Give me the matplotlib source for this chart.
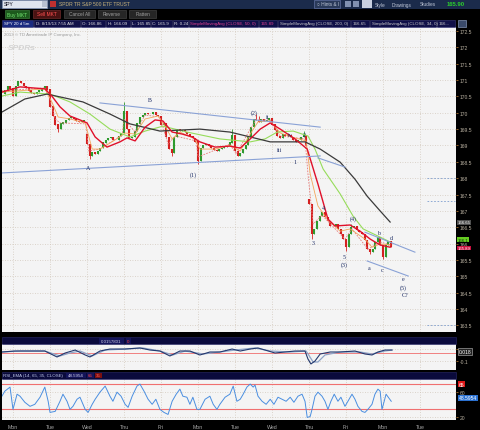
import numpy as np
import matplotlib
matplotlib.use("Agg")
import matplotlib.pyplot as plt
from matplotlib.patches import Rectangle
import matplotlib.transforms as mtransforms

plt.rcParams['font.family'] = ['Liberation Sans', 'DejaVu Sans']

# ---------------- data ----------------
day_labels = ['Mon', 'Tue', 'Wed', 'Thu', 'Fri', 'Mon', 'Tue', 'Wed', 'Thu', 'Fri', 'Mon', 'Tue']
bars_per_day = 14

# closes of each session (bar by bar)
prev_fri = [170.57, 170.67, 170.79, 170.73]
mon_a = [170.51, 170.82, 170.97, 170.91, 170.82, 170.76, 170.67, 170.60, 170.57, 170.63, 170.67, 170.73, 170.79, 170.70]
tue_a = [170.18, 169.90, 169.63, 169.50, 169.66, 169.69, 169.78, 169.84, 169.87, 169.81, 169.75, 169.72, 169.75, 169.78]
wed_a = [169.04, 168.68, 168.80, 168.74, 168.83, 168.92, 169.08, 169.17, 169.23, 169.26, 169.17, 169.17, 169.29, 169.38]
thu_a = [170.05, 169.50, 169.23, 169.26, 169.44, 169.66, 169.87, 169.93, 169.99, 169.96, 169.96, 170.02, 169.93, 169.90]
fri_a = [169.63, 169.66, 169.26, 168.89, 168.77, 169.26, 169.50, 169.44, 169.47, 169.41, 169.35, 169.29, 169.23, 169.11]
mon_b = [168.52, 168.92, 169.01, 169.04, 168.98, 168.92, 168.86, 168.83, 168.89, 168.92, 168.95, 168.98, 169.08, 169.32]
tue_b = [168.83, 168.68, 168.77, 168.89, 169.01, 169.26, 169.56, 169.81, 169.78, 169.72, 169.81, 169.75, 169.78, 169.84]
wed_b = [169.63, 169.47, 169.29, 169.23, 169.35, 169.29, 169.32, 169.26, 169.17, 169.11, 169.17, 169.26, 169.32, 168.98]
thu_b = [167.21, 166.29, 166.45, 166.69, 166.84, 166.96, 166.81, 166.69, 166.54, 166.54, 166.60, 166.45, 166.29, 166.14]
fri_b = [165.89, 166.29, 166.51, 166.54, 166.41, 166.35, 166.29, 166.11, 165.83, 165.74, 165.83, 166.05, 166.20, 165.96]
mon_c = [165.59, 165.96, 166.08, 165.89]
session_open = [170.73, 170.70, 169.35, 169.38, 169.90, 169.11, 169.32, 169.84, 167.36, 166.14, 165.96]
wick_high = [(3, 0, 170.33), (5, 13, 169.50), (6, 8, 169.96), (6, 9, 169.90), (7, 12, 169.44),
             (8, 0, 167.36), (9, 2, 166.60), (9, 12, 166.23)]
wick_low = [(1, 3, 169.41), (2, 1, 168.59), (4, 4, 168.68), (5, 0, 168.43), (8, 1, 166.14),
            (9, 0, 165.77), (9, 9, 165.68), (10, 0, 165.53)]

# moving averages (day position, price)
sma200_t = [-0.30, 0.32, 0.92, 1.89, 2.62, 3.16, 3.97, 5.05, 5.86, 6.41, 6.95, 7.89, 8.30, 8.84, 9.24, 9.57, 9.92, 10.19]
sma200_p = [170.02, 170.42, 170.57, 170.33, 169.96, 169.66, 169.44, 169.50, 169.41, 169.26, 169.11, 169.11, 168.89, 168.49, 167.97, 167.45, 167.00, 166.66]
sma50_t = [-0.30, 0.19, 1.00, 1.54, 2.08, 2.62, 3.16, 3.57, 4.05, 4.70, 5.59, 6.41, 6.81, 7.14, 7.57, 7.97, 8.16, 8.38, 8.84, 9.19, 9.46, 9.92, 10.19]
sma50_p = [170.51, 170.63, 170.57, 170.33, 169.96, 169.50, 169.26, 169.44, 169.59, 169.41, 169.20, 169.11, 169.20, 169.41, 169.44, 169.29, 168.89, 168.28, 167.52, 166.84, 166.45, 166.20, 166.05]
sma34_t = [-0.30, 0.19, 0.86, 1.05, 1.27, 1.54, 1.81, 2.00, 2.22, 2.54, 2.89, 3.08, 3.30, 3.57, 3.84, 4.05, 4.30, 4.57, 4.84, 5.05, 5.46, 5.86, 6.14, 6.41, 6.68, 6.95, 7.22, 7.62, 7.95, 8.24, 8.51, 8.70, 9.11, 9.38, 9.65, 9.92, 10.19]
sma34_p = [170.63, 170.79, 170.73, 170.51, 170.18, 169.90, 169.78, 169.69, 169.26, 168.95, 169.11, 169.23, 169.14, 169.56, 169.78, 169.75, 169.41, 169.35, 169.26, 169.11, 168.95, 168.98, 168.92, 169.20, 169.50, 169.69, 169.50, 169.20, 168.89, 167.82, 166.75, 166.54, 166.57, 166.38, 166.14, 165.96, 165.89]
ma_org_t = [-0.30, 0.86, 1.05, 1.22, 1.54, 1.95, 2.14, 2.35, 2.76, 3.03, 3.30, 3.57, 3.92, 4.11, 4.30, 4.51, 4.92, 5.05, 5.46, 5.86, 6.14, 6.41, 6.62, 6.95, 7.22, 7.62, 7.92, 8.03, 8.24, 8.49, 8.84, 9.11, 9.51, 9.70, 9.92, 10.19]
ma_org_p = [170.63, 170.73, 170.33, 169.87, 169.81, 169.69, 168.89, 168.89, 169.17, 169.38, 169.35, 169.81, 169.90, 169.59, 169.20, 169.41, 169.20, 168.89, 168.89, 169.01, 168.83, 169.35, 169.72, 169.75, 169.38, 169.23, 169.14, 168.13, 167.15, 166.75, 166.38, 166.45, 166.14, 165.89, 165.99, 165.96]
ma_pnk_t = [-0.30, 0.86, 1.00, 1.14, 1.27, 1.97, 2.05, 2.35, 2.95, 3.00, 3.30, 3.57, 3.97, 4.19, 4.38, 4.95, 5.00, 5.86, 6.03, 6.41, 6.57, 6.95, 7.22, 7.89, 7.97, 8.11, 8.35, 8.97, 9.16, 9.59, 9.92, 10.19]
ma_pnk_p = [170.67, 170.76, 170.42, 169.81, 169.69, 169.66, 168.83, 168.89, 169.32, 169.81, 169.41, 169.93, 169.87, 169.04, 169.29, 169.14, 168.65, 169.04, 168.74, 169.50, 169.78, 169.78, 169.29, 169.20, 168.13, 166.60, 166.87, 166.14, 166.45, 165.83, 166.05, 165.96]

# trendlines ((t0, p0), (t1, p1))
trendlines = [((2.35, 170.30), (8.30, 169.56)),
              ((-0.30, 168.16), (8.30, 168.68)),
              ((8.24, 168.62), (8.97, 168.34)),
              ((9.51, 166.35), (10.86, 165.74)),
              ((9.57, 165.47), (10.68, 165.01))]

# wave labels
wave_text = ['B', 'A', '(1)', '(2)', 'ii', 'iv', '2', 'iii', '1', '3', '4', '5', '(3)', '(4)',
             'a', 'b', 'c', 'd', 'e', '(5)', 'C?']
wave_t = [3.70, 2.03, 4.86, 6.51, 6.89, 7.49, 7.86, 7.19, 7.62, 8.11, 8.38, 8.95, 8.95, 9.19,
          9.62, 9.89, 9.97, 10.22, 10.54, 10.54, 10.59]
wave_p = [170.39, 168.34, 168.13, 170.02, 169.90, 169.35, 169.35, 168.89, 168.52, 166.02, 167.09,
          165.62, 165.37, 166.78, 165.28, 166.35, 165.22, 166.20, 164.92, 164.67, 164.46]

# oscillator panel
osc_t = [-0.30, 0.05, 0.46, 0.86, 1.19, 1.41, 1.68, 1.95, 2.08, 2.35, 2.62, 3.03, 3.43, 3.70, 3.97, 4.24, 4.51, 4.78, 5.05, 5.32, 5.59, 5.92, 6.14, 6.41, 6.62, 6.81, 7.08, 7.35, 7.62, 7.89, 7.97, 8.05, 8.16, 8.30, 8.57, 8.84, 9.24, 9.51, 9.70, 9.86, 10.05, 10.24]
osc_v = [0.013, 0.026, 0.026, 0.026, -0.052, 0.0, 0.039, -0.026, -0.052, 0.026, 0.052, 0.052, 0.066, 0.039, 0.026, -0.039, 0.026, 0.026, -0.026, 0.013, 0.013, 0.052, 0.026, 0.052, 0.066, 0.039, 0.0, 0.013, 0.026, 0.026, -0.079, -0.144, -0.105, -0.013, 0.013, 0.013, 0.026, -0.013, -0.026, 0.013, 0.039, 0.039]
sig_t = [-0.30, 0.19, 0.86, 1.27, 1.54, 1.81, 2.14, 2.49, 3.03, 3.51, 3.97, 4.32, 4.65, 5.14, 5.59, 6.00, 6.54, 6.95, 7.49, 7.92, 8.11, 8.24, 8.43, 8.84, 9.38, 9.70, 10.05, 10.24]
sig_v = [0.013, 0.026, 0.026, -0.039, 0.0, 0.026, -0.039, 0.039, 0.052, 0.066, 0.026, -0.026, 0.026, -0.013, 0.013, 0.039, 0.066, 0.026, 0.013, 0.026, -0.118, -0.118, -0.026, 0.013, 0.013, -0.013, 0.026, 0.039]

# RSI panel
rsi_t = [-0.30, -0.22, -0.08, 0.00, 0.11, 0.19, 0.32, 0.46, 0.59, 0.73, 0.86, 0.95, 1.00, 1.14, 1.27, 1.35, 1.46, 1.54, 1.62, 1.73,
         1.81, 1.95, 2.03, 2.14, 2.22, 2.35, 2.49, 2.62, 2.70, 2.81, 2.92, 3.03, 3.11, 3.22, 3.35, 3.43, 3.54, 3.65, 3.76, 3.86,
         3.97, 4.08, 4.19, 4.30, 4.41, 4.51, 4.59, 4.70, 4.78, 4.86, 4.97, 5.05, 5.19, 5.32, 5.41, 5.51, 5.59, 5.73, 5.86, 5.95,
         6.05, 6.14, 6.22, 6.32, 6.41, 6.49, 6.54, 6.62, 6.73, 6.84, 6.95, 7.05, 7.16, 7.27, 7.38, 7.49, 7.59, 7.70, 7.81, 7.89,
         7.95, 8.03, 8.08, 8.16, 8.24, 8.35, 8.43, 8.51, 8.59, 8.68, 8.78, 8.86, 8.97, 9.05, 9.16, 9.24, 9.32, 9.43, 9.51, 9.59,
         9.70, 9.78, 9.86, 9.92, 9.97, 10.03, 10.08, 10.14, 10.22]
rsi_v = [50.6, 56.6, 61.4, 35, 53, 50.6, 43.4, 38.6, 41, 49.4, 61.4, 44.6, 31.4, 32.6, 44.6, 53, 44.6, 35, 38.6, 47,
         49.4, 35, 31.4, 41, 47, 55.4, 62.6, 50.6, 44.6, 55.4, 50.6, 41, 37.4, 50.6, 62.6, 65, 56.6, 47, 41, 47,
         35, 31.4, 29, 44.6, 53, 59, 50.6, 49.4, 41, 49.4, 35, 35, 47, 50.6, 41, 35, 41, 49.4, 53, 62.6,
         44.6, 47, 53, 61.4, 65, 61.4, 63.8, 50.6, 44.6, 41, 47, 41, 49.4, 47, 44.6, 49.4, 43.4, 50.6, 53, 44.6,
         25.4, 26.6, 35, 50.6, 55.4, 50.6, 44.6, 35, 44.6, 53, 44.6, 49.4, 38.6, 44.6, 53, 47, 38.6, 32.6, 31.4, 35,
         41, 53, 59, 56.6, 35, 44.6, 53, 49.4, 44.6]
rsi_levels = [65, 35]

# ---------------- figure ----------------
W, H = 480, 431
fig = plt.figure(figsize=(W / 100, H / 100), dpi=100, facecolor='black')


def pax(x0, y0, x1, y1, **kw):
    return fig.add_axes([x0 / W, 1 - y1 / H, (x1 - x0) / W, (y1 - y0) / H], **kw)


def frect(x0, y0, x1, y1, fc, ec='none', lw=0.5):
    fig.patches.append(Rectangle((x0 / W, 1 - y1 / H), (x1 - x0) / W, (y1 - y0) / H,
                                 transform=fig.transFigure, fc=fc, ec=ec, lw=lw, zorder=0))


def ftext(x, y, s, **kw):
    fig.text(x / W, 1 - y / H, s, **kw)


# ---- top toolbar ----
frect(0, 0, 480, 10, '#1b2b4b')
frect(2, 1, 47, 9, '#dfe4ee', ec='#8090b0')
ftext(4, 5, 'SPY', fontsize=3.6, color='#101020', va='center')
frect(42, 2, 47, 8, '#b8c0d0')
frect(50, 2, 56, 8, '#c03030')
ftext(59, 5, 'SPDR TR S&P 500 ETF TRUST', fontsize=3.6, color='#c8b27a', va='center')
frect(314, 1, 340, 9, '#2a3a5a', ec='#6070a0')
ftext(317, 5, '\u25cb Hints & I', fontsize=3.4, color='#c0c8d8', va='center')
frect(345, 2, 351, 8, '#8090b0')
frect(353, 2, 359, 8, '#8090b0')
frect(362, 1, 372, 9, '#c8d0e0')
ftext(375, 5, 'Style', fontsize=3.4, color='#c0c8d8', va='center')
ftext(392, 5, 'Drawings', fontsize=3.4, color='#c0c8d8', va='center')
ftext(420, 5, 'Studies', fontsize=3.4, color='#c0c8d8', va='center')
ftext(447, 5, '165.90', fontsize=4.2, color='#2bd02b', va='center', fontweight='bold')

# ---- order buttons ----
frect(0, 10, 480, 20, '#000000')
frect(5, 11, 29, 19, '#1d5a1d', ec='#3a7a3a')
ftext(17, 15, 'Buy MKT', fontsize=3.5, color='#70e070', ha='center', va='center')
frect(33, 11, 60, 19, '#4a1212', ec='#6a2a2a')
ftext(46.5, 15, 'Sell MKT', fontsize=3.5, color='#ff5050', ha='center', va='center')
for x0, x1, s in [(64, 95, 'Cancel All'), (98, 126, 'Reverse'), (129, 156, 'Flatten')]:
    frect(x0, 11, x1, 19, '#262626', ec='#404040')
    ftext((x0 + x1) / 2, 15, s, fontsize=3.4, color='#a0a0a0', ha='center', va='center')

# ---- header info bar ----
frect(0, 20, 480, 28, '#000000')
hdr = [(2, 33, 'SPY 20 d 5m', '#ffffff', '#1a2a80'), (34, 80, 'D: 8/19/13 7:55 AM', '#e0e0e0', '#101048'),
       (81, 105, 'O: 166.86', '#e0e0e0', '#101048'), (106, 130, 'H: 166.09', '#e0e0e0', '#101048'),
       (131, 150, 'L: 165.85', '#e0e0e0', '#101048'), (151, 172, 'C: 165.9', '#e0e0e0', '#101048'),
       (173, 188, 'R: 0.24', '#e0e0e0', '#101048'),
       (189, 258, 'SimpleMovingAvg (CLOSE, 50, 0)', '#e04090', '#101048'),
       (259, 277, '165.89', '#e04090', '#101048'),
       (278, 350, 'SimpleMovingAvg (CLOSE, 200, 0)', '#c8c8c8', '#101048'),
       (351, 369, '166.65', '#c8c8c8', '#101048'),
       (370, 436, 'SimpleMovingAvg (CLOSE, 34, 0)', '#c8c8c8', '#101048'),
       (437, 455, '166...', '#c8c8c8', '#101048')]
for x0, x1, s, c, bg in hdr:
    frect(x0, 21, x1, 27.5, bg, ec='#3a3a7a', lw=0.4)
    ftext(x0 + 1.5, 24.3, s, fontsize=3.2, color=c, va='center')
frect(458, 21, 466, 28, '#3a4a6a', ec='#8090b0')

# ---- main price panel ----
ax = pax(2, 28, 456, 333)
ax.set_facecolor('#f4f4f4')
ax.set_xlim(-0.297, 11.97)
ax.set_ylim(163.30, 172.62)

sessions = [prev_fri, mon_a, tue_a, wed_a, thu_a, fri_a, mon_b, tue_b, wed_b, thu_b, fri_b, mon_c]
hi_map = {(d, j): p for d, j, p in wick_high}
lo_map = {(d, j): p for d, j, p in wick_low}
prev_close = None
for si, closes in enumerate(sessions):
    d = si - 1
    j0 = bars_per_day - len(closes) if d < 0 else 0
    for k, c in enumerate(closes):
        j = j0 + k
        t = d + j / bars_per_day
        if k == 0 and d >= 0:
            o = session_open[d]
        elif prev_close is None:
            o = c
        else:
            o = prev_close
        hi = max(o, c, hi_map.get((d, j), -1e9))
        lo = min(o, c, lo_map.get((d, j), 1e9))
        col = '#2e9a2e' if c >= o else '#d42020'
        ax.vlines(t, lo, hi, color=col, lw=0.6, zorder=3)
        ax.vlines(t, min(o, c), max(o, c) + 0.012, color=col, lw=1.5, zorder=3)
        prev_close = c

ax.plot(ma_pnk_t, ma_pnk_p, color='#e87878', lw=0.6, ls=(0, (2, 1.5)), zorder=4)
ax.plot(ma_org_t, ma_org_p, color='#f3a55a', lw=0.6, zorder=4)
ax.plot(sma50_t, sma50_p, color='#96dc5a', lw=0.8, zorder=4)
ax.plot(sma200_t, sma200_p, color='#3a3a3a', lw=0.9, zorder=4)
ax.plot(sma34_t, sma34_p, color='#e0102a', lw=1.0, zorder=5)

for (t0, p0), (t1, p1) in trendlines:
    ax.plot([t0, t1], [p0, p1], color='#8aa2d6', lw=0.8, zorder=5)

for s, t, p in zip(wave_text, wave_t, wave_p):
    ax.text(t, p, s, fontsize=4.3, color='#1c2c64', ha='center', va='center',
            family=['Liberation Serif', 'DejaVu Serif'], zorder=6)

# dashed markers at right edge
ax.hlines([168.0, 167.30, 163.50], 11.19, 11.95, color='#7f9fd0', lw=0.6, ls=(0, (2, 2)), zorder=2)

ax.set_yticks(np.arange(163.5, 172.51, 0.5))
ax.set_yticklabels([('%g' % v) for v in np.arange(163.5, 172.51, 0.5)])
ax.set_xticks(range(12))
ax.yaxis.tick_right()
ax.tick_params(axis='y', length=1.5, width=0.5, color='#d08a3a', labelsize=3.6,
               labelcolor='#b8b0a0', pad=1)
ax.tick_params(axis='x', length=0, labelbottom=False)
ax.grid(True, color='#d2c8bc', lw=0.6, ls=(0, (1, 2)))
for sp in ax.spines.values():
    sp.set_visible(False)

tr = mtransforms.blended_transform_factory(ax.transAxes, ax.transData)
for v, s, bg, fc in [(166.65, '166.65', '#505050', '#ffffff'), (166.12, '166.1', '#66cc22', '#0a2a0a'),
                     (165.87, '165.89', '#cc1040', '#ffffff')]:
    ax.text(1.004, v, s, transform=tr, fontsize=3.1, color=fc, va='center', ha='left',
            bbox=dict(boxstyle='square,pad=0.08', fc=bg, ec='none'), clip_on=False, zorder=8)

ax.text(0.004, 0.985, '2013 \u00a9 TD Ameritrade IP Company, Inc.', transform=ax.transAxes,
        fontsize=3.2, color='#9a9a9a', va='top')
ax.text(0.012, 0.945, 'SPDRs', transform=ax.transAxes, fontsize=6, color='#d4d4d4',
        fontweight='bold', style='italic', va='top')

# ---- oscillator panel ----
frect(2, 338, 456, 345, '#0a0a3c', ec='#2a2a6a', lw=0.4)
frect(99, 338.5, 124, 344.5, '#14145a')
ftext(101, 341.6, '0.0157801', fontsize=3.2, color='#d0d0e8', va='center')
frect(126, 338.5, 131, 344.5, '#14145a')
ftext(127, 341.6, '0', fontsize=3.2, color='#ff4040', va='center')
ax2 = pax(2, 345, 456, 371)
ax2.set_facecolor('#f4f4f4')
ax2.set_xlim(-0.297, 11.97)
ax2.set_ylim(-0.223, 0.118)
ax2.axhline(0, color='#f08080', lw=0.7)
ax2.plot(sig_t, sig_v, color='#8ea4c8', lw=0.9)
ax2.plot(osc_t, osc_v, color='#22386e', lw=0.8)
ax2.set_xticks(range(12))
ax2.set_yticks([0.05, -0.1])
ax2.set_yticklabels(['', '-0.1'])
ax2.yaxis.tick_right()
ax2.tick_params(axis='y', length=1.5, width=0.5, color='#d08a3a', labelsize=3.6, labelcolor='#b8b0a0', pad=1)
ax2.tick_params(axis='x', length=0, labelbottom=False)
ax2.grid(True, color='#d2c8bc', lw=0.6, ls=(0, (1, 2)))
for sp in ax2.spines.values():
    sp.set_visible(False)
tr2 = mtransforms.blended_transform_factory(ax2.transAxes, ax2.transData)
ax2.text(1.006, 0.018, '0.018', transform=tr2, fontsize=3.6, color='#ffffff', va='center',
         bbox=dict(boxstyle='square,pad=0.15', fc='#202020', ec='#c0c0c0', lw=0.4), clip_on=False)

# ---- RSI panel ----
frect(2, 373, 456, 379.5, '#0a0a3c', ec='#2a2a6a', lw=0.4)
ftext(3, 376.3, 'RSI_EMA (14, 65, 35, CLOSE)', fontsize=3.2, color='#c0c8e8', va='center')
frect(66, 373.5, 86, 379, '#14145a')
ftext(67.5, 376.3, '48.5954', fontsize=3.2, color='#d0d0e8', va='center')
frect(87, 373.5, 94, 379, '#14145a')
ftext(88, 376.3, '65', fontsize=3.2, color='#ff4040', va='center')
frect(95, 373.5, 102, 379, '#7a1010')
ftext(96, 376.3, '35', fontsize=3.2, color='#ff6060', va='center')
ax3 = pax(2, 380, 456, 421)
ax3.set_facecolor('#f4f4f4')
ax3.set_xlim(-0.297, 11.97)
ax3.set_ylim(22.4, 71.0)
for lv in rsi_levels:
    ax3.axhline(lv, color='#f07070', lw=0.8)
ax3.plot(rsi_t, rsi_v, color='#4a8ee0', lw=0.7)
ax3.set_xticks(range(12))
ax3.set_xticklabels(day_labels)
ax3.set_yticks([56, 26])
ax3.set_yticklabels(['60', '20'])
ax3.yaxis.tick_right()
ax3.tick_params(axis='y', length=1.5, width=0.5, color='#d08a3a', labelsize=3.6, labelcolor='#b8b0a0', pad=1)
ax3.tick_params(axis='x', length=0, labelsize=3.8, labelcolor='#a8a8a8', pad=3)
ax3.grid(True, color='#d2c8bc', lw=0.6, ls=(0, (1, 2)))
for sp in ax3.spines.values():
    sp.set_visible(False)
tr3 = mtransforms.blended_transform_factory(ax3.transAxes, ax3.transData)
ax3.text(1.006, 65, '65', transform=tr3, fontsize=3.6, color='#ffffff', va='center',
         bbox=dict(boxstyle='square,pad=0.15', fc='#e01818', ec='none'), clip_on=False)
ax3.text(1.006, 48.6, '48.5954', transform=tr3, fontsize=3.6, color='#ffffff', va='center',
         bbox=dict(boxstyle='square,pad=0.15', fc='#2a70d0', ec='none'), clip_on=False)

fig.savefig('out.png', dpi=100, facecolor='black')
